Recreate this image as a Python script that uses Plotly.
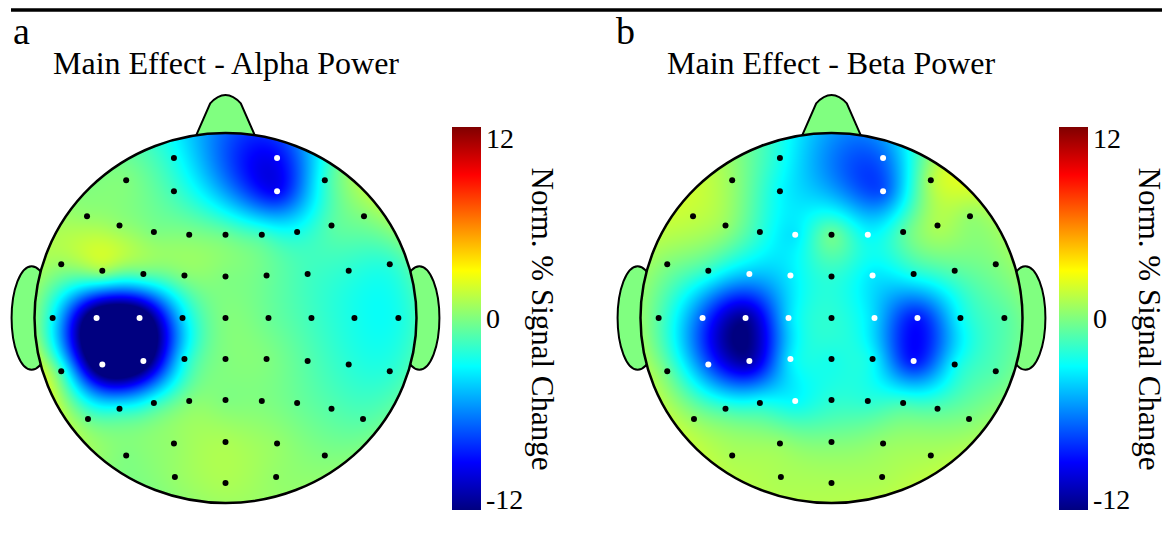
import numpy as np
import plotly.graph_objects as go

W, H = 1165, 554

# ---------------- data ----------------
electrode_names = ["Fp1", "Fp2", "AF7", "AF3", "AF4", "AF8",
                   "F7", "F5", "F3", "F1", "Fz", "F2", "F4", "F6", "F8",
                   "FT7", "FC5", "FC3", "FC1", "FCz", "FC2", "FC4", "FC6", "FT8",
                   "T7", "C5", "C3", "C1", "Cz", "C2", "C4", "C6", "T8",
                   "TP7", "CP5", "CP3", "CP1", "CPz", "CP2", "CP4", "CP6", "TP8",
                   "P7", "P5", "P3", "P1", "Pz", "P2", "P4", "P6", "P8",
                   "PO7", "PO3", "POz", "PO4", "PO8",
                   "O1", "Oz", "O2"]
# positions in head-radius units (x: left->right, y: back->front)
electrode_x = [-0.27, 0.27, -0.52, -0.27, 0.27, 0.52,
               -0.725, -0.555, -0.375, -0.19, 0.0, 0.19, 0.375, 0.555, 0.725,
               -0.86, -0.645, -0.43, -0.215, 0.0, 0.215, 0.43, 0.645, 0.86,
               -0.905, -0.675, -0.45, -0.225, 0.0, 0.225, 0.45, 0.675, 0.905,
               -0.86, -0.645, -0.43, -0.215, 0.0, 0.215, 0.43, 0.645, 0.86,
               -0.72, -0.555, -0.375, -0.19, 0.0, 0.19, 0.375, 0.555, 0.72,
               -0.52, -0.27, 0.0, 0.27, 0.52,
               -0.265, 0.0, 0.265]
electrode_y = [0.865, 0.865, 0.745, 0.685, 0.685, 0.745,
               0.55, 0.5, 0.465, 0.45, 0.45, 0.45, 0.465, 0.5, 0.55,
               0.29, 0.255, 0.238, 0.23, 0.225, 0.23, 0.238, 0.255, 0.29,
               0.0, 0.0, 0.0, 0.0, 0.0, 0.0, 0.0, 0.0, 0.0,
               -0.288, -0.252, -0.232, -0.222, -0.222, -0.222, -0.232, -0.252, -0.288,
               -0.546, -0.49, -0.46, -0.449, -0.443, -0.449, -0.46, -0.49, -0.546,
               -0.743, -0.678, -0.67, -0.678, -0.743,
               -0.859, -0.892, -0.859]

alpha_values = [-2.5, -9.0, 0.0, -1.5, -9.0, -2.0,
                0.5, 0.5, 0.0, 0.0, -0.5, -1.5, -2.5, -1.0, 0.0,
                0.5, 0.5, -1.0, 0.0, 0.0, -0.5, -1.5, -2.0, -2.0,
                -3.0, -15.0, -15.0, -4.0, 0.0, -0.5, -1.5, -2.5, -2.5,
                -1.5, -15.0, -14.0, -3.0, 0.0, 0.0, -1.0, -2.0, -2.0,
                -0.5, -2.5, -2.0, 0.0, 0.0, 0.0, -0.5, -1.0, -1.0,
                0.0, 0.5, 1.0, 0.5, 0.0,
                0.5, 1.0, 0.5]
beta_values = [-2.5, -6.5, 0.5, -3.0, -7.0, 1.0,
               1.5, 0.5, -2.0, -3.5, -0.5, -3.0, -1.0, 1.0, 0.5,
               0.0, -2.0, -4.5, -3.5, -2.0, -3.5, -2.5, -1.0, 0.0,
               -1.0, -7.0, -11.5, -4.0, -2.0, -4.0, -8.5, -3.0, -1.0,
               -0.5, -7.0, -11.0, -3.5, -2.5, -3.0, -8.5, -3.0, -1.0,
               0.5, -1.5, -2.5, -3.0, -2.0, -2.0, -1.5, -1.0, 0.0,
               1.0, 0.5, 0.0, 0.5, 1.0,
               1.0, 1.0, 1.0]

alpha_significant = ["Fp2", "AF4", "C5", "C3", "CP5", "CP3"]
beta_significant = ["Fp2", "AF4", "F1", "F2", "FC3", "FC1", "FC2", "C5", "C3", "C1",
                    "C2", "C4", "CP5", "CP3", "CP1", "CP4", "P1"]

panel_letters = ["a", "b"]
panel_titles = ["Main Effect - Alpha Power", "Main Effect - Beta Power"]
cbar_title = "Norm. % Signal Change"
cbar_tick_vals = [12, 0, -12]
cbar_tick_text = ["12", "0", "-12"]
zmin, zmax = -12, 12

# ---------------- layout geometry (pixels) ----------------
head_cx = [225.5, 831.5]
head_cy = 318.0
unit_x, unit_y = 191.0, 185.0
x_range = [-1.18, 1.18]
y_range = [-1.1, 1.3]
cbar_left = [452.0, 1059.0]
cbar_top, cbar_bottom = 127.0, 510.0
cbar_thick = 29.0

jet = [[0.0, "#000080"], [0.125, "#0000FF"], [0.375, "#00FFFF"],
       [0.625, "#FFFF00"], [0.875, "#FF0000"], [1.0, "#800000"]]
skin = "#80FF80"
serif = "Liberation Serif"


def biharmonic(xe, ye, ve, gx, gy):
    xe = np.asarray(xe, float); ye = np.asarray(ye, float); ve = np.asarray(ve, float)
    d = np.hypot(xe[:, None] - xe[None, :], ye[:, None] - ye[None, :])
    with np.errstate(divide="ignore", invalid="ignore"):
        G = np.where(d > 0, d ** 2 * (np.log(d) - 1), 0.0)
    w = np.linalg.solve(G, ve)
    XX, YY = np.meshgrid(gx, gy)
    D = np.hypot(XX.ravel()[:, None] - xe[None, :], YY.ravel()[:, None] - ye[None, :])
    with np.errstate(divide="ignore", invalid="ignore"):
        GD = np.where(D > 0, D ** 2 * (np.log(D) - 1), 0.0)
    Z = (GD @ w).reshape(XX.shape)
    Z[XX ** 2 + YY ** 2 > 1.0] = np.nan
    return Z


gx = np.linspace(-1, 1, 383)
gy = np.linspace(-1, 1, 371)

fig = go.Figure()
shapes = []
annotations = []

for i, vals in enumerate([alpha_values, beta_values]):
    sig = [alpha_significant, beta_significant][i]
    ax = "" if i == 0 else "2"
    xref, yref = "x" + ax, "y" + ax
    Z = biharmonic(electrode_x, electrode_y, vals, gx, gy).astype(np.float32)

    fig.add_trace(go.Heatmap(
        x=gx, y=gy, z=Z, xaxis=xref, yaxis=yref,
        colorscale=jet, zmin=zmin, zmax=zmax, zsmooth=False, hoverinfo="skip",
        colorbar=dict(x=cbar_left[i] / W, xanchor="left", xpad=0, ypad=0,
                      y=1 - (cbar_top + cbar_bottom) / 2 / H, yanchor="middle",
                      len=cbar_bottom - cbar_top, lenmode="pixels",
                      thickness=cbar_thick, thicknessmode="pixels",
                      outlinewidth=0, showticklabels=False, ticks=""),
    ))
    colors = ["white" if n in sig else "black" for n in electrode_names]
    fig.add_trace(go.Scatter(
        x=electrode_x, y=electrode_y, xaxis=xref, yaxis=yref, mode="markers",
        marker=dict(size=6, color=colors, line=dict(width=0)),
        text=electrode_names, hoverinfo="text", showlegend=False,
    ))

    # nose and ears (below the map), head outline (above)
    shapes.append(dict(type="path", xref=xref, yref=yref, layer="below",
                       path="M -0.165 0.96 L -0.08 1.16 Q 0 1.25 0.08 1.16 L 0.165 0.96 Z",
                       fillcolor=skin, line=dict(color="black", width=2)))
    for s in (-1, 1):
        shapes.append(dict(type="circle", xref=xref, yref=yref, layer="below",
                           x0=s * 1.015 - 0.105, x1=s * 1.015 + 0.105, y0=-0.28, y1=0.28,
                           fillcolor=skin, line=dict(color="black", width=2)))
    shapes.append(dict(type="circle", xref=xref, yref=yref, layer="above",
                       x0=-1, x1=1, y0=-1, y1=1, fillcolor="rgba(0,0,0,0)",
                       line=dict(color="black", width=2.5)))

    # texts
    cx = head_cx[i]
    annotations.append(dict(text=panel_titles[i], x=cx / W, y=1 - 63 / H, xref="paper", yref="paper",
                            xanchor="center", yanchor="middle", showarrow=False,
                            font=dict(family=serif, size=32, color="black")))
    annotations.append(dict(text=panel_letters[i], x=[11, 614][i] / W, y=1 - 31 / H,
                            xref="paper", yref="paper", xanchor="left", yanchor="middle",
                            showarrow=False, font=dict(family=serif, size=38, color="black")))
    for v, t in zip(cbar_tick_vals, cbar_tick_text):
        ypx = cbar_top + (zmax - v) / (zmax - zmin) * (cbar_bottom - cbar_top)
        ypx = min(max(ypx, cbar_top + 11), cbar_bottom - 11)
        annotations.append(dict(text=t, x=(cbar_left[i] + cbar_thick + 3) / W, y=1 - ypx / H,
                                xref="paper", yref="paper", xanchor="left", yanchor="middle",
                                showarrow=False, font=dict(family=serif, size=28, color="black")))
    annotations.append(dict(text=cbar_title, x=(cbar_left[i] + 90) / W,
                            y=1 - (cbar_top + cbar_bottom) / 2 / H, xref="paper", yref="paper",
                            xanchor="center", yanchor="middle", textangle=90, showarrow=False,
                            font=dict(family=serif, size=31, color="black")))

# top rule
shapes.append(dict(type="line", xref="paper", yref="paper", x0=11 / W, x1=1162 / W,
                   y0=1 - 10 / H, y1=1 - 10 / H, line=dict(color="black", width=3.5)))

layout = dict(width=W, height=H, margin=dict(l=0, r=0, t=0, b=0),
              paper_bgcolor="white", plot_bgcolor="white", showlegend=False,
              shapes=shapes, annotations=annotations)
for i in range(2):
    ax = "" if i == 0 else "2"
    x0 = head_cx[i] + x_range[0] * unit_x
    x1 = head_cx[i] + x_range[1] * unit_x
    ytop = head_cy - y_range[1] * unit_y
    ybot = head_cy - y_range[0] * unit_y
    layout["xaxis" + ax] = dict(domain=[x0 / W, x1 / W], range=x_range, visible=False,
                                fixedrange=True, anchor="y" + ax)
    layout["yaxis" + ax] = dict(domain=[1 - ybot / H, 1 - ytop / H], range=y_range, visible=False,
                                fixedrange=True, anchor="x" + ax)
fig.update_layout(**layout)
fig.write_html("out.html")
